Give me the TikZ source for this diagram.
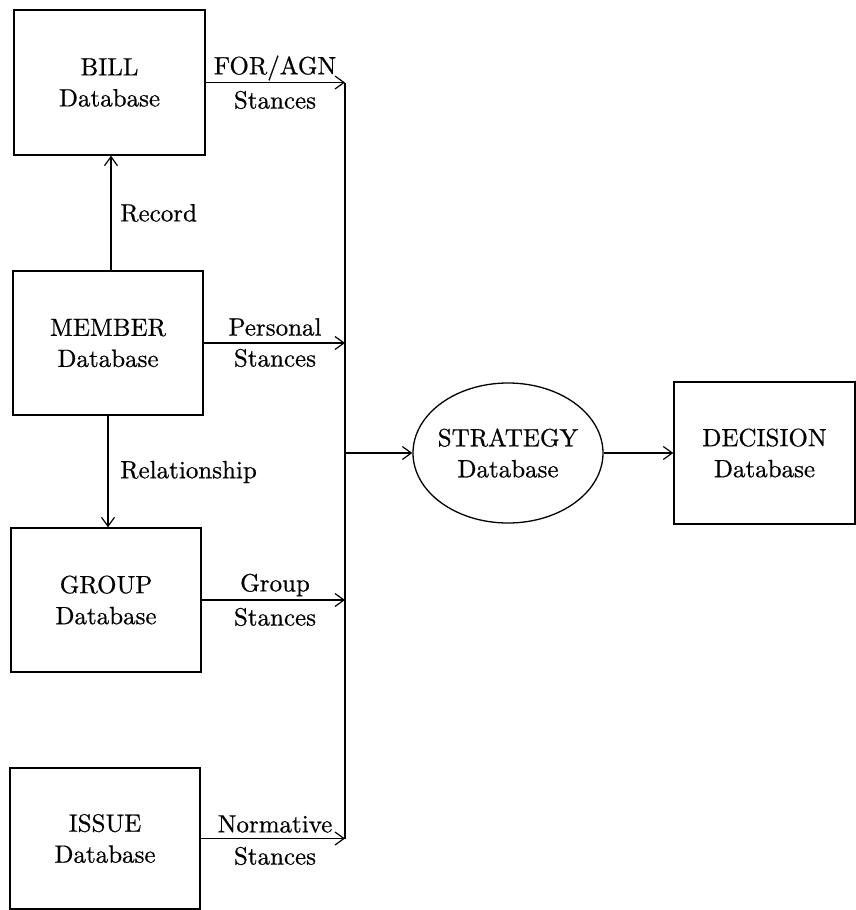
\documentclass[tikz,border=0pt]{standalone}
\usepackage{fontspec}
\setmainfont{lmroman10-regular}[Extension=.otf,FakeBold=0.6]
\usetikzlibrary{shapes.geometric,arrows.meta}
\begin{document}
\begin{tikzpicture}[x=1pt,y=-1pt,
  every node/.style={font=\fontsize{25}{31}\selectfont, inner sep=0pt},
  dbbox/.style={draw, line width=1.4pt, rectangle, align=center},
  dbell/.style={draw, line width=1.3pt, ellipse, align=center, inner xsep=-4.3pt},
  flow/.style={line width=1.3pt, -{Straight Barb[length=9pt,width=13pt,line width=1.2pt]}},
  bus/.style={line width=1.3pt},
  lbl/.style={align=center}]
\useasboundingbox (0,0) rectangle (856,910);
% boxes
\node[dbbox, minimum width=191pt, minimum height=145pt] (bill) at (109.5,82.5) {BILL\\Database};
\node[dbbox, minimum width=190pt, minimum height=144pt] (member) at (108,343) {MEMBER\\Database};
\node[dbbox, minimum width=190pt, minimum height=144pt] (group) at (106,600) {GROUP\\Database};
\node[dbbox, minimum width=190pt, minimum height=141pt] (issue) at (105,838.5) {ISSUE\\Database};
\node[dbell, minimum width=190pt, minimum height=140pt] (strategy) at (508,453) {STRATEGY\\Database};
\node[dbbox, minimum width=181pt, minimum height=142pt] (decision) at (764.5,453) {DECISION\\Database};
% bus coordinates
\coordinate (b1) at (345,82.5);
\coordinate (b2) at (345,343);
\coordinate (b3) at (345,600);
\coordinate (b4) at (345,838.5);
\coordinate (bj) at (345,453);
% connectors
\draw[flow] (bill.east) -- (b1);
\draw[flow] (member.east) -- (b2);
\draw[flow] (group.east) -- (b3);
\draw[flow] (issue.east) -- (b4);
\draw[bus] (b1) -- (b4);
\draw[flow] (bj) -- (strategy.west);
\draw[flow] (strategy.east) -- (decision.west);
\draw[flow] (member.north -| 111,0) -- (bill.south -| 111,0);
\draw[flow] (member.south -| 108,0) -- (group.north -| 108,0);
% labels
\node[lbl] (l1a) at (275,68) {FOR/AGN};
\node[lbl] (l1b) at (275,100) {Stances};
\node[lbl] (l2a) at (275,327) {Personal};
\node[lbl] (l2b) at (275,358) {Stances};
\node[lbl] (l3a) at (275,585) {Group};
\node[lbl] (l3b) at (275,617) {Stances};
\node[lbl] (l4a) at (275,824) {Normative};
\node[lbl] (l4b) at (275,856) {Stances};
\node[lbl, anchor=west] (lrec) at (120,213) {Record};
\node[lbl, anchor=west] (lrel) at (120,472) {Relationship};
\end{tikzpicture}
\end{document}
